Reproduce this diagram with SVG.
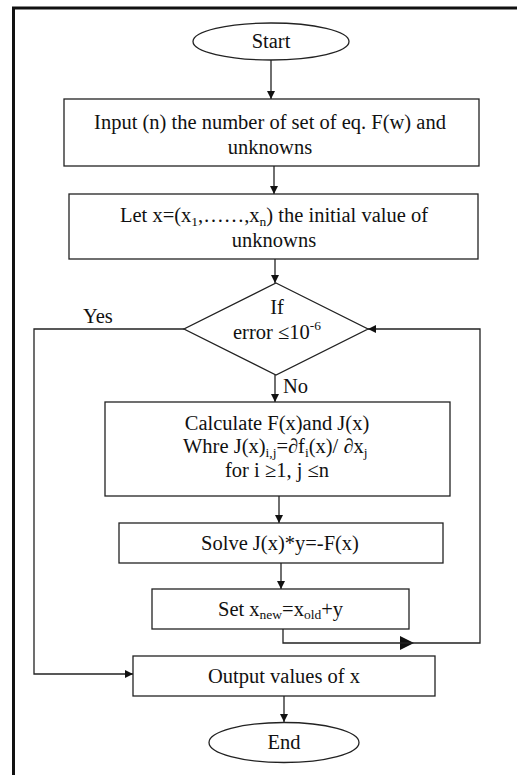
<svg xmlns="http://www.w3.org/2000/svg" width="517" height="775" viewBox="0 0 517 775">
<defs>
<style>
.box{fill:#fff;stroke:#222;stroke-width:1.3}
.ln{fill:none;stroke:#222;stroke-width:1.3}
text{font-family:"Liberation Serif","Times New Roman",serif;font-size:20.5px;fill:#111}
.c{text-anchor:middle}
.s{font-size:13.5px}
</style>
<marker id="ah" viewBox="0 0 10 10" refX="10" refY="5" markerWidth="8" markerHeight="8" markerUnits="userSpaceOnUse" orient="auto"><path d="M0,0 L10,5 L0,10 z" fill="#111"/></marker>
<marker id="big" viewBox="0 0 10 10" refX="5" refY="5" markerWidth="14" markerHeight="14" markerUnits="userSpaceOnUse" orient="auto"><path d="M0,0 L10,5 L0,10 z" fill="#111"/></marker>
</defs>
<rect width="517" height="775" fill="#fff"/>
<path d="M13.5,775 V8 H517" fill="none" stroke="#111" stroke-width="3"/>
<g id="connectors">
<line class="ln" x1="271" y1="60" x2="271" y2="99" marker-end="url(#ah)"/>
<line class="ln" x1="274" y1="166" x2="274" y2="194" marker-end="url(#ah)"/>
<line class="ln" x1="275" y1="259" x2="275" y2="283" marker-end="url(#ah)"/>
<line class="ln" x1="275" y1="375" x2="275" y2="402" marker-end="url(#ah)"/>
<line class="ln" x1="279" y1="496" x2="279" y2="523" marker-end="url(#ah)"/>
<line class="ln" x1="281" y1="563" x2="281" y2="589" marker-end="url(#ah)"/>
<line class="ln" x1="284" y1="696" x2="284" y2="722" marker-end="url(#ah)"/>
<polyline class="ln" points="184,329 34,329 34,674 133,674" marker-end="url(#ah)"/>
<polyline class="ln" points="283,629 283,643 407,643" marker-end="url(#big)"/>
<polyline class="ln" points="400,643 480,643 480,329 368,329" marker-end="url(#ah)"/>
<text x="83" y="323">Yes</text>
<text x="283" y="393">No</text>
</g>
<g id="start">
<ellipse class="box" cx="271" cy="41.5" rx="78" ry="18.5"/>
<text class="c" x="271" y="48">Start</text>
</g>
<g id="input">
<rect class="box" x="64" y="99" width="415" height="67"/>
<text class="c" x="270" y="129">Input (n) the number of set of eq. F(w) and</text>
<text class="c" x="270" y="154">unknowns</text>
</g>
<g id="init">
<rect class="box" x="69" y="194" width="409" height="65"/>
<text class="c" x="274" y="222">Let x=(x<tspan class="s" dy="4">1</tspan><tspan dy="-4">,……,x</tspan><tspan class="s" dy="4">n</tspan><tspan dy="-4">) the initial value of</tspan></text>
<text class="c" x="274" y="247">unknowns</text>
</g>
<g id="decision">
<polygon class="box" points="276,283 368,329 276,375 184,329"/>
<text class="c" x="277" y="314">If</text>
<text x="233" y="339">error ≤10<tspan class="s" dy="-9">-6</tspan></text>
</g>
<g id="calc">
<rect class="box" x="105" y="402" width="345" height="94"/>
<text class="c" x="277" y="430">Calculate F(x)and J(x)</text>
<text x="183" y="453">Whre J(x)<tspan class="s" dy="4">i,j</tspan><tspan dy="-4">=∂f</tspan><tspan class="s" dy="4">i</tspan><tspan dy="-4">(x)/ ∂x</tspan><tspan class="s" dy="4">j</tspan></text>
<text class="c" x="277" y="477">for i ≥1, j ≤n</text>
</g>
<g id="solve">
<rect class="box" x="119" y="523" width="324" height="40"/>
<text class="c" x="280" y="550">Solve J(x)*y=-F(x)</text>
</g>
<g id="update">
<rect class="box" x="152" y="589" width="257" height="40"/>
<text x="218" y="616">Set x<tspan class="s" dy="3">new</tspan><tspan dy="-3">=x</tspan><tspan class="s" dy="3">old</tspan><tspan dy="-3">+y</tspan></text>
</g>
<g id="output">
<rect class="box" x="133" y="656" width="302" height="40"/>
<text class="c" x="284" y="683">Output values of x</text>
</g>
<g id="end">
<ellipse class="box" cx="284" cy="742.5" rx="75" ry="20"/>
<text class="c" x="284" y="749">End</text>
</g>
</svg>
